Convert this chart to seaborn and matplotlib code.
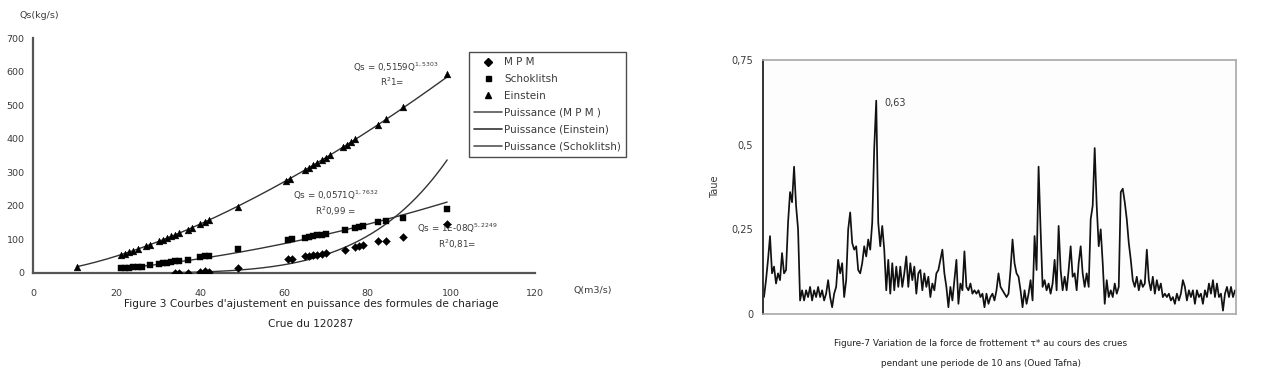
import numpy as np
import pandas as pd
import matplotlib
matplotlib.use("Agg")
import matplotlib.pyplot as plt
import seaborn as sns
from matplotlib.lines import Line2D

sns.set_theme(style="white")
plt.rcParams['font.family'] = ['DejaVu Sans']

# ---------------- data: left chart (Figure 3) ----------------
einstein_q = [10.5, 21, 22, 23, 24, 25, 27, 28, 30, 31, 32, 33, 34, 35, 37, 38, 40, 41, 42, 49,
              60.5, 61.5, 65, 66, 67, 68, 69, 70, 71, 74, 75, 76, 77, 82.5, 84.5, 88.5, 99]
einstein_qs = [19, 54, 58, 62, 67, 71, 80, 84, 94, 99, 104, 109, 114, 119, 129, 135, 146, 152, 157, 197,
               275, 281, 306, 313, 321, 328, 336, 343, 351, 374, 382, 390, 398, 442, 459, 493, 593]

schok_q = [21, 22, 23, 24, 25, 26, 28, 30, 31, 32, 33, 34, 35, 37, 40, 41, 42, 49,
           61, 62, 65, 66, 67, 68, 69, 70, 74.5, 77, 78, 79, 82.5, 84.5, 88.5, 99]
schok_qs = [14, 15, 16, 17, 18, 19, 24, 27, 29, 31, 33, 35, 36, 40, 48, 50, 52, 72,
            97, 100, 105, 107, 110, 112, 114, 117, 128, 133, 136, 139, 152, 156, 163, 190]

mpm_q = [34, 35, 37, 40, 41, 42, 49, 61, 62, 65, 66, 67, 68, 69, 70, 74.5, 77, 78, 79, 82.5, 84.5, 88.5, 99]
mpm_qs = [1, 1, 1, 3, 5, 4, 15, 43, 42, 50, 52, 54, 55, 57, 60, 70, 77, 80, 83, 95, 96, 107, 145]

# power trendline coefficients (a * Q^b) and their ranges
fit_names = ["Puissance (MPM)", "Puissance (Einstein)", "Puissance (Schoklitsh)"]
fit_a = [1.26e-8, 0.5159, 0.064]
fit_b = [5.2249, 1.5303, 1.7632]
fit_qmin = [34, 10.5, 21]
fit_qmax = [99, 99, 99]

x_ticks_left = [0, 20, 40, 60, 80, 100, 120]
y_ticks_left = [0, 100, 200, 300, 400, 500, 600, 700]

# ---------------- data: right chart (Figure 7) ----------------
taue = [0.05, 0.10, 0.16, 0.23, 0.12, 0.14, 0.09, 0.12, 0.10, 0.18, 0.12, 0.13, 0.27, 0.36, 0.33, 0.435,
        0.32, 0.25, 0.04, 0.07, 0.04, 0.07, 0.05, 0.08, 0.04, 0.07, 0.05, 0.08, 0.05, 0.07, 0.04, 0.06,
        0.10, 0.05, 0.02, 0.06, 0.08, 0.16, 0.12, 0.15, 0.05, 0.10, 0.25, 0.30, 0.21, 0.19, 0.20, 0.13,
        0.12, 0.15, 0.20, 0.17, 0.22, 0.19, 0.27, 0.49, 0.63, 0.27, 0.20, 0.26, 0.19, 0.07, 0.16, 0.06,
        0.15, 0.07, 0.14, 0.08, 0.14, 0.08, 0.12, 0.17, 0.08, 0.15, 0.10, 0.14, 0.06, 0.12, 0.13, 0.07,
        0.12, 0.08, 0.11, 0.05, 0.09, 0.07, 0.12, 0.13, 0.16, 0.19, 0.12, 0.08, 0.02, 0.08, 0.04, 0.10,
        0.16, 0.03, 0.09, 0.07, 0.185, 0.08, 0.07, 0.09, 0.06, 0.07, 0.06, 0.07, 0.05, 0.06, 0.02, 0.06,
        0.03, 0.05, 0.06, 0.04, 0.07, 0.12, 0.08, 0.07, 0.06, 0.05, 0.06, 0.13, 0.22, 0.15, 0.12, 0.11,
        0.07, 0.02, 0.07, 0.03, 0.06, 0.10, 0.04, 0.23, 0.13, 0.435, 0.25, 0.08, 0.10, 0.07, 0.09, 0.06,
        0.09, 0.16, 0.07, 0.26, 0.13, 0.07, 0.11, 0.07, 0.13, 0.20, 0.11, 0.12, 0.07, 0.15, 0.20, 0.12,
        0.08, 0.12, 0.08, 0.28, 0.32, 0.49, 0.32, 0.20, 0.25, 0.15, 0.03, 0.10, 0.05, 0.07, 0.05, 0.09,
        0.06, 0.08, 0.36, 0.37, 0.33, 0.28, 0.21, 0.16, 0.10, 0.08, 0.11, 0.07, 0.10, 0.08, 0.09, 0.19,
        0.10, 0.07, 0.11, 0.06, 0.10, 0.07, 0.09, 0.05, 0.06, 0.05, 0.06, 0.04, 0.05, 0.03, 0.06, 0.04,
        0.06, 0.10, 0.08, 0.04, 0.07, 0.05, 0.07, 0.03, 0.07, 0.05, 0.06, 0.03, 0.07, 0.05, 0.09, 0.06,
        0.10, 0.05, 0.09, 0.05, 0.06, 0.01, 0.06, 0.08, 0.05, 0.08, 0.05, 0.07]
y_ticks_right = [0, 0.25, 0.5, 0.75]
y_tick_labels_right = ["0", "0,25", "0,5", "0,75"]

# ---------------- figure ----------------
W, H = 1261, 372
fig = plt.figure(figsize=(W / 100, H / 100), dpi=100)
fig.patch.set_facecolor("white")


def fx(x):
    return x / W


def fy(y):
    return 1 - y / H


TXT = "#3a3a3a"

# ---- left axes ----
axL = fig.add_axes([fx(33), fy(273), fx(535) - fx(33), fy(38) - fy(273)])
dfE = pd.DataFrame({"Q": einstein_q, "Qs": einstein_qs})
dfS = pd.DataFrame({"Q": schok_q, "Qs": schok_qs})
dfM = pd.DataFrame({"Q": mpm_q, "Qs": mpm_qs})

for i in range(3):
    qg = np.linspace(fit_qmin[i], fit_qmax[i], 200)
    dfit = pd.DataFrame({"Q": qg, "Qs": fit_a[i] * qg ** fit_b[i]})
    sns.lineplot(data=dfit, x="Q", y="Qs", ax=axL, color="#333333", lw=1.0, legend=False)

sns.scatterplot(data=dfM, x="Q", y="Qs", ax=axL, marker="D", s=16, color="black", edgecolor="black",
                linewidth=0.3, legend=False, zorder=5)
sns.scatterplot(data=dfS, x="Q", y="Qs", ax=axL, marker="s", s=18, color="black", edgecolor="black",
                linewidth=0.3, legend=False, zorder=5)
sns.scatterplot(data=dfE, x="Q", y="Qs", ax=axL, marker="^", s=24, color="black", edgecolor="black",
                linewidth=0.3, legend=False, zorder=5)

axL.set_xlim(0, 120)
axL.set_ylim(0, 700)
axL.set_xticks(x_ticks_left)
axL.set_yticks(y_ticks_left)
axL.set_xticklabels([str(v) for v in x_ticks_left])
axL.set_yticklabels([str(v) for v in y_ticks_left])
axL.set_xlabel("")
axL.set_ylabel("")
for s in ["top", "right"]:
    axL.spines[s].set_visible(False)
for s in ["left", "bottom"]:
    axL.spines[s].set_color("#555555")
    axL.spines[s].set_linewidth(1.6)
axL.tick_params(axis="both", direction="out", length=3.5, width=1.2, color="#555555",
                labelsize=6.8, labelcolor=TXT, pad=2.5)
axL.tick_params(axis="x", pad=8)
axL.patch.set_alpha(0)

# annotations of the fits
axL.text(76.5, 601, "Qs = 0,5159Q$^{1,5303}$", fontsize=6.3, color=TXT)
axL.text(83, 558, "R$^2$1=", fontsize=6.3, color=TXT)
axL.text(62.2, 220, "Qs = 0,0571Q$^{1,7632}$", fontsize=6.3, color=TXT)
axL.text(67.5, 174, "R$^2$0,99 =", fontsize=6.3, color=TXT)
axL.text(91.8, 122, "Qs = 1E-08Q$^{5,2249}$", fontsize=6.3, color=TXT)
axL.text(96.8, 74, "R$^2$0,81=", fontsize=6.3, color=TXT)

# legend
handles = [
    Line2D([], [], ls="none", marker="D", ms=3.6, color="black"),
    Line2D([], [], ls="none", marker="s", ms=3.6, color="black"),
    Line2D([], [], ls="none", marker="^", ms=4.2, color="black"),
    Line2D([], [], color="#555555", lw=1.2),
    Line2D([], [], color="#333333", lw=1.2),
    Line2D([], [], color="#555555", lw=1.2),
]
labels = ["M P M", "Schoklitsh", "Einstein", "Puissance (M P M )", "Puissance (Einstein)",
          "Puissance (Schoklitsh)"]
leg = axL.legend(handles, labels, loc="upper left", bbox_to_anchor=(fx(469), fy(52)),
                 bbox_transform=fig.transFigure, fontsize=7.5, frameon=True, fancybox=False,
                 handlelength=2.7, handletextpad=0.15, labelspacing=0.66, borderpad=0.5,
                 borderaxespad=0)
leg.get_frame().set_edgecolor("#222222")
leg.get_frame().set_linewidth(1.0)
for t in leg.get_texts():
    t.set_color(TXT)

fig.text(fx(20), fy(15), "Qs(kg/s)", fontsize=6.8, color=TXT, va="center", ha="left")
fig.text(fx(573), fy(290), "Q(m3/s)", fontsize=6.8, color=TXT, va="center", ha="left")
fig.text(fx(311), fy(304), "Figure 3 Courbes d'ajustement en puissance des formules de chariage",
         fontsize=7.6, color="#222222", ha="center", va="center")
fig.text(fx(311), fy(324), "Crue du 120287", fontsize=7.6, color="#222222", ha="center", va="center")

# ---- right axes ----
axR = fig.add_axes([fx(763), fy(314), fx(1236) - fx(763), fy(60) - fy(314)])
dfT = pd.DataFrame({"i": np.arange(len(taue)), "taue": taue})
sns.lineplot(data=dfT, x="i", y="taue", ax=axR, color="#111111", lw=1.25, legend=False)
axR.set_xlim(-0.5, len(taue) - 0.5)
axR.set_ylim(0, 0.75)
axR.set_xticks([])
axR.set_yticks(y_ticks_right)
axR.set_yticklabels(y_tick_labels_right)
axR.set_xlabel("")
axR.set_ylabel("Taue", fontsize=7, color=TXT, labelpad=8)
for s in ["top", "right", "bottom"]:
    axR.spines[s].set_color("#a8a8a8")
    axR.spines[s].set_linewidth(1.2)
axR.spines["left"].set_color("#333333")
axR.spines["left"].set_linewidth(1.4)
axR.tick_params(axis="y", direction="out", length=4, width=1.2, color="#333333",
                labelsize=7, labelcolor=TXT, pad=3)
axR.set_facecolor("#fdfdfd")
peak_i = int(np.argmax(taue))
axR.annotate("0,63", xy=(peak_i, taue[peak_i]), xytext=(6, -2), textcoords="offset points",
             fontsize=7, color=TXT, va="center", ha="left")

fig.text(fx(981), fy(344), "Figure-7 Variation de la force de frottement \u03c4* au cours des crues",
         fontsize=6.4, color="#222222", ha="center", va="center")
fig.text(fx(981), fy(364), "pendant une periode de 10 ans (Oued Tafna)",
         fontsize=6.4, color="#222222", ha="center", va="center")

fig.savefig("out.png", dpi=100, facecolor="white")
